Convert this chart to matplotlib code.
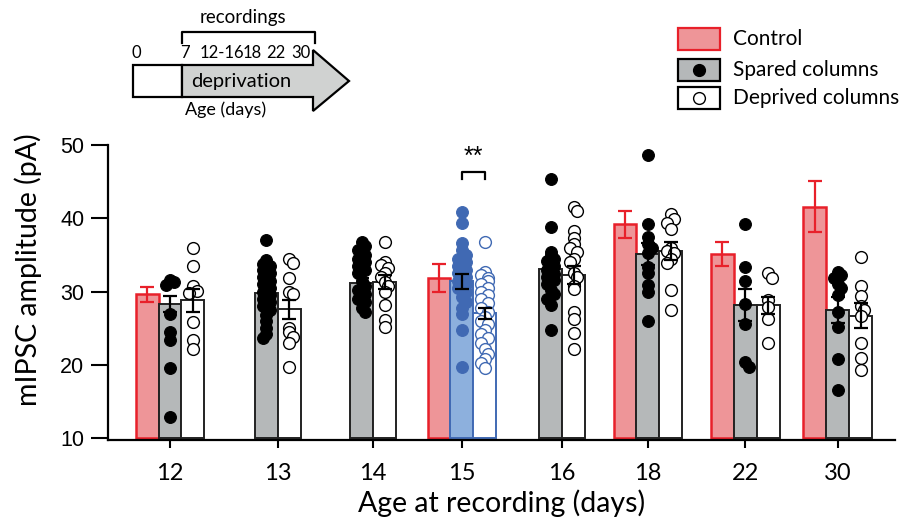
import matplotlib
matplotlib.use("Agg")
import matplotlib.pyplot as plt
from matplotlib.patches import Polygon, Rectangle
import numpy as np

# ---------------- data ----------------
ages = ["12", "13", "14", "15", "16", "18", "22", "30"]

control_ages = ["12", "15", "18", "22", "30"]
control_mean = [29.6, 31.9, 39.2, 35.1, 41.6]
control_sem = [1.0, 1.9, 1.85, 1.6, 3.5]

spared_mean = [28.3, 29.8, 31.2, 31.4, 33.1, 35.1, 28.2, 27.5]
spared_sem = [1.1, 0.8, 0.7, 1.0, 0.9, 1.5, 2.2, 1.8]
deprived_mean = [28.8, 27.6, 31.3, 27.0, 32.25, 35.5, 28.1, 26.7]
deprived_sem = [1.6, 1.3, 1.0, 0.8, 1.25, 1.25, 1.2, 1.7]

spared_pts = [
    [31.6, 31.3, 30.9, 26.9, 24.5, 23.4, 19.6, 12.9],
    [37.0, 34.3, 33.8, 33.5, 33.0, 32.5, 32.0, 31.5, 31.0, 30.5, 30.0, 29.5,
     29.0, 28.5, 28.0, 27.5, 26.8, 26.0, 25.0, 24.2, 23.6],
    [36.8, 36.2, 35.6, 35.0, 34.4, 34.0, 33.5, 33.0, 32.5, 31.5, 30.8, 30.2,
     29.6, 29.0, 28.5, 27.8, 27.2],
    [40.8, 39.4, 36.6, 35.6, 35.0, 34.5, 34.0, 33.5, 33.0, 32.5, 32.0, 31.5,
     31.0, 30.5, 30.0, 29.3, 28.6, 27.8, 26.9, 24.7, 19.7],
    [45.4, 38.8, 35.4, 35.0, 34.5, 34.1, 33.5, 33.0, 32.4, 32.0, 31.6, 31.0,
     30.2, 29.6, 29.0, 28.2, 24.7],
    [48.6, 39.2, 37.4, 36.5, 36.0, 35.3, 33.4, 32.5, 30.9, 30.0, 26.0],
    [39.2, 33.3, 31.5, 28.3, 25.5, 20.4, 19.7],
    [32.7, 32.2, 31.8, 31.0, 30.5, 29.5, 27.2, 25.2, 20.8, 16.6],
]
deprived_pts = [
    [35.9, 33.5, 30.8, 30.1, 29.8, 25.9, 23.4, 22.2],
    [34.5, 33.9, 31.8, 30.0, 29.6, 25.0, 24.5, 23.8, 23.0, 19.7],
    [36.8, 34.0, 33.6, 33.2, 32.5, 32.0, 31.3, 30.8, 30.0, 28.2, 26.1, 25.2],
    [36.8, 32.6, 32.2, 31.8, 31.5, 31.0, 30.5, 30.0, 29.5, 29.0, 28.4, 27.8,
     27.2, 26.5, 26.0, 25.5, 24.8, 24.2, 23.6, 23.0, 22.2, 21.5, 20.8, 20.2, 19.5],
    [41.5, 41.0, 38.2, 37.3, 36.5, 36.0, 35.4, 34.5, 34.0, 32.5, 32.0, 30.8,
     30.4, 27.2, 26.3, 24.3, 22.2],
    [40.6, 39.9, 39.4, 38.6, 35.9, 35.5, 35.2, 34.5, 33.9, 30.2, 27.5],
    [32.5, 31.8, 28.8, 27.9, 26.3, 23.0],
    [34.7, 30.7, 29.4, 28.0, 27.5, 26.6, 23.0, 20.9, 19.3],
]

inset_labels = ["0", "7", "12-16", "18", "22", "30"]

highlight_age = "15"
sig_label = "**"

# ---------------- layout ----------------
W, H = 910, 525
xpos = [0.0, 1.13, 2.13, 3.06, 4.11, 5.01, 6.03, 7.0]
bw = 0.24
inset_label_x = [136, 185, 222, 252, 276, 301]

RED = "#E8202A"
PINK = "#EE9598"
GRAY = "#B5B8B9"
BLUE_FILL = "#8DB0DD"
BLUE = "#4069B3"
DARK = "#222222"

FONT_AR = ["Liberation Sans", "DejaVu Sans"]
FONT_CAL = ["Lato", "DejaVu Sans"]

fig = plt.figure(figsize=(W / 100, H / 100), dpi=100)
ax = fig.add_axes([108 / W, 1 - 440 / H, (895 - 108) / W, (440 - 145) / H])
ax.set_ylim(9.73, 50)
ax.set_xlim(-0.65, 7.6)


def swarm(vals, center, d_x=0.11, d_y=1.45, max_off=0.075):
    order = np.argsort(vals)[::-1]
    placed = []
    xs = np.zeros(len(vals))
    cands = [0.0]
    step = 0.35 * d_x
    k = 1
    while k * step <= max_off + 1e-9:
        cands += [k * step, -k * step]
        k += 1
    for i in order:
        v = vals[i]
        best = None
        for c in cands:
            ok = True
            for (px, py) in placed:
                dx = (c - px) / d_x
                dy = (v - py) / d_y
                if dx * dx + dy * dy < 0.55 ** 2:
                    ok = False
                    break
            if ok:
                best = c
                break
        if best is None:
            best = cands[len(placed) % len(cands)]
        placed.append((best, v))
        xs[i] = center + best
    return xs


ctrl_map = dict(zip(control_ages, zip(control_mean, control_sem)))
DOT_S = 72

for i, age in enumerate(ages):
    xc = xpos[i]
    hl = age == highlight_age
    if age in ctrl_map:
        xcon, xsp, xdp = xc - bw, xc, xc + bw
        cm, cs = ctrl_map[age]
        ax.bar(xcon, cm - 10, bottom=10, width=bw, color=PINK, edgecolor=RED,
               linewidth=1.8, zorder=2)
        ax.errorbar(xcon, cm, yerr=cs, color=RED, capsize=5, elinewidth=1.6,
                    capthick=1.6, zorder=6, fmt="none")
    else:
        xsp, xdp = xc - bw / 2, xc + bw / 2

    sp_face = BLUE_FILL if hl else GRAY
    sp_edge = BLUE if hl else DARK
    dp_edge = BLUE if hl else DARK
    dot_c = BLUE if hl else "black"

    ax.bar(xsp, spared_mean[i] - 10, bottom=10, width=bw, color=sp_face,
           edgecolor=sp_edge, linewidth=1.4, zorder=2)
    ax.bar(xdp, deprived_mean[i] - 10, bottom=10, width=bw, color="white",
           edgecolor=dp_edge, linewidth=1.4, zorder=2)

    sv = np.array(spared_pts[i])
    dv = np.array(deprived_pts[i])
    ax.scatter(swarm(sv, xsp), sv, s=DOT_S, color=dot_c, edgecolor=dot_c,
               linewidth=0.8, zorder=4)
    ax.scatter(swarm(dv, xdp), dv, s=DOT_S, facecolor="white",
               edgecolor=dot_c, linewidth=1.0, zorder=4)

    ax.errorbar(xsp, spared_mean[i], yerr=spared_sem[i], color="black",
                capsize=5, elinewidth=1.6, capthick=1.6, zorder=6, fmt="none")
    ax.errorbar(xdp, deprived_mean[i], yerr=deprived_sem[i], color="black",
                capsize=5, elinewidth=1.6, capthick=1.6, zorder=6, fmt="none")

    if hl:
        yb = 46.3
        ax.plot([xsp, xsp, xdp, xdp], [yb - 1.0, yb, yb, yb - 1.0],
                color="black", lw=1.6, zorder=6, clip_on=False)
        ax.text((xsp + xdp) / 2, yb + 0.5, sig_label, ha="center",
                va="bottom", fontsize=18, family=FONT_AR)

for s in ["top", "right"]:
    ax.spines[s].set_visible(False)
for s in ["left", "bottom"]:
    ax.spines[s].set_linewidth(1.6)
ax.spines["left"].set_bounds(9.73, 50)

ax.set_yticks([10, 20, 30, 40, 50])
ax.set_xticks(xpos)
ax.set_xticklabels(ages)
ax.tick_params(axis="y", direction="out", length=12, width=1.5,
               labelsize=15.5, pad=5)
ax.tick_params(axis="x", direction="out", length=5.5, width=1.5,
               labelsize=17, pad=11)
for lab in ax.get_yticklabels():
    lab.set_family(FONT_AR)
for lab in ax.get_xticklabels():
    lab.set_family(FONT_CAL)
ax.set_ylabel("mIPSC amplitude (pA)", fontsize=20.5, family=FONT_CAL)
ax.yaxis.set_label_coords(-0.084, 0.576)
ax.set_xlabel("Age at recording (days)", fontsize=20.5, family=FONT_CAL,
              labelpad=4)

# ---------------- overlay (inset schematic + legend) ----------------
ov = fig.add_axes([0, 0, 1, 1])
ov.set_xlim(0, W)
ov.set_ylim(H, 0)
ov.axis("off")

ov.add_patch(Rectangle((133, 65), 49, 32, facecolor="white",
                       edgecolor="black", lw=1.6))
arrow = [(182, 65), (313, 65), (313, 50), (349, 81), (313, 111), (313, 97),
         (182, 97)]
ov.add_patch(Polygon(arrow, closed=True, facecolor="#D0D2D1",
                     edgecolor="black", lw=1.6, joinstyle="miter"))
for lab, lx in zip(inset_labels, inset_label_x):
    ov.text(lx, 53, lab, fontsize=12, family=FONT_CAL, ha="center",
            va="center")
ov.text(191, 82, "deprivation", fontsize=14.5, family=FONT_CAL, ha="left",
        va="center")
ov.text(185, 110, "Age (days)", fontsize=13, family=FONT_CAL, ha="left",
        va="center")
ov.text(243, 17, "recordings", fontsize=13.5, family=FONT_CAL, ha="center",
        va="center")
ov.plot([182, 182, 315, 315], [43, 32, 32, 43], color="black", lw=1.6)

leg_items = [
    ("Control", PINK, RED, None),
    ("Spared columns", GRAY, "black", "filled"),
    ("Deprived columns", "white", "black", "open"),
]
leg_y = [39, 70, 98]
for (lab, fc, ec, mk), yc in zip(leg_items, leg_y):
    ov.add_patch(Rectangle((678, yc - 11), 42, 22, facecolor=fc,
                           edgecolor=ec, lw=1.6))
    if mk == "filled":
        ov.scatter([699], [yc], s=DOT_S, color="black", zorder=5)
    elif mk == "open":
        ov.scatter([699], [yc], s=DOT_S, facecolor="white",
                   edgecolor="black", lw=1.0, zorder=5)
    ov.text(733, yc, lab, fontsize=15, family=FONT_CAL, ha="left",
            va="center")

fig.savefig("out.png", dpi=100)
